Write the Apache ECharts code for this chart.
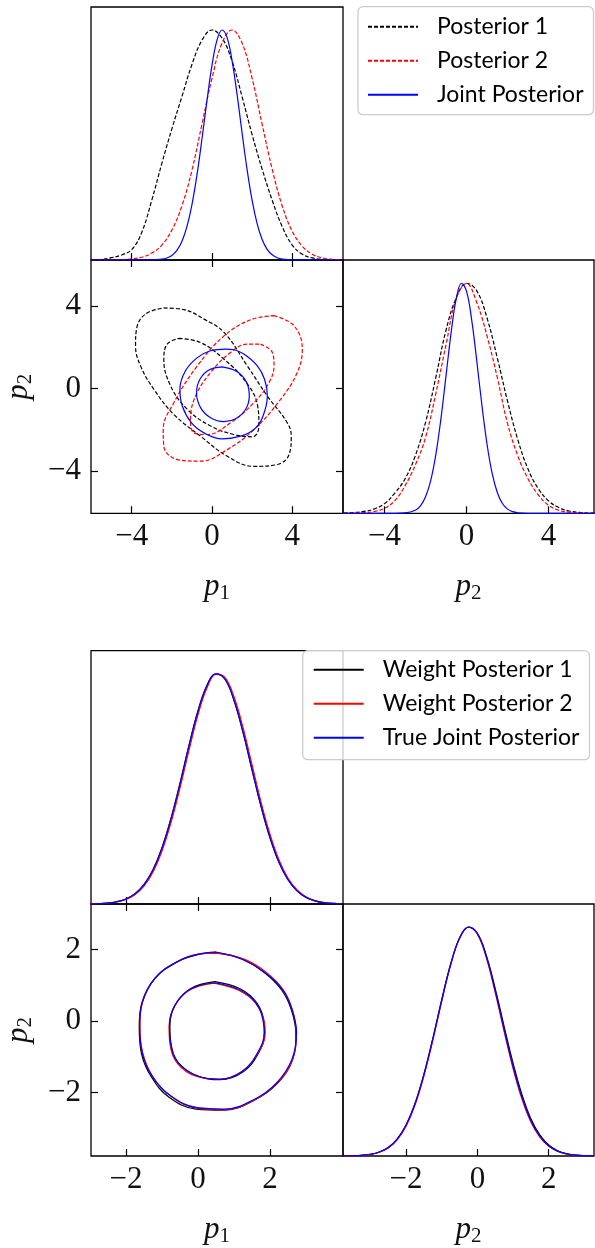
<!DOCTYPE html>
<html>
<head>
<meta charset="utf-8">
<script src="https://cdn.jsdelivr.net/npm/echarts@6/dist/echarts.min.js"></script>
<style>
html,body{margin:0;padding:0;background:#fff;}
#chart{width:595px;height:1248px;}
</style>
</head>
<body>
<div id="chart"></div>
<script>
// ---------------- DATA ----------------
// Figure 1 : marginal grids
const fig1Grid = [-6,-5.5,-5,-4.5,-4,-3.5,-3,-2.5,-2,-1.5,-1,-0.5,0,0.5,1,1.5,2,2.5,3,3.5,4,4.5,5,5.5,6,6.5];
const fig1Post1P1 = [0.001,0.003,0.010,0.022,0.045,0.12,0.26,0.42,0.57,0.71,0.85,0.955,1.0,0.965,0.865,0.71,0.545,0.395,0.26,0.145,0.065,0.025,0.009,0.003,0.001,0];
const fig1Post2P1 = [0,0,0.001,0.002,0.005,0.012,0.03,0.065,0.13,0.235,0.39,0.59,0.79,0.943,1.0,0.943,0.79,0.59,0.395,0.235,0.125,0.06,0.025,0.009,0.003,0.001];
const fig1JointP1Grid = [-6,-3,-2.5,-2.25,-2,-1.75,-1.5,-1.25,-1,-0.75,-0.5,-0.25,0,0.25,0.5,0.75,1,1.25,1.5,1.75,2,2.25,2.5,2.75,3,3.25,3.5,4,6.5];
const fig1JointP1 = [0,0.0005,0.0036,0.0088,0.0198,0.0415,0.0805,0.145,0.240,0.369,0.526,0.693,0.846,0.956,1.0,0.968,0.867,0.720,0.553,0.393,0.259,0.158,0.089,0.046,0.0225,0.010,0.0042,0.0006,0];
const fig1Post1P2 = [0.001,0.003,0.008,0.019,0.042,0.088,0.15,0.25,0.395,0.59,0.796,0.936,0.999,0.966,0.848,0.675,0.487,0.32,0.192,0.107,0.054,0.025,0.01,0.004,0.001,0];
const fig1Post2P2 = [0,0.001,0.003,0.008,0.022,0.055,0.12,0.21,0.33,0.52,0.733,0.935,0.998,0.915,0.77,0.59,0.39,0.25,0.15,0.08,0.035,0.013,0.005,0.002,0,0];
const fig1JointP2Grid = [-6,-3.5,-3,-2.5,-2.25,-2,-1.75,-1.5,-1.25,-1,-0.75,-0.5,-0.25,0,0.25,0.5,0.75,1,1.25,1.5,1.75,2,2.25,2.5,3,6.5];
const fig1JointP2 = [0,0.0001,0.0017,0.0135,0.0327,0.0719,0.142,0.255,0.411,0.599,0.787,0.933,0.999,0.964,0.840,0.661,0.469,0.300,0.173,0.0904,0.0425,0.0181,0.007,0.0024,0.0002,0];

// Figure 1 : contours [p1, p2]
const fig1Post1Outer = [[-2.40,3.90],[-1.40,3.82],[-0.40,3.36],[0.60,2.72],[1.76,1.10],[2.76,-0.36],[3.75,-1.65],[3.95,-2.30],[3.84,-3.19],[3.26,-3.67],[2.09,-3.76],[0.76,-3.27],[-0.57,-2.30],[-1.90,-1.25],[-2.90,-0.03],[-3.56,1.10],[-3.81,2.07],[-3.76,2.88],[-3.31,3.61]];
const fig1Post1Inner = [[-1.65,2.43],[-0.57,2.23],[0.60,1.42],[1.59,0.45],[2.26,-0.76],[2.34,-1.81],[2.01,-2.33],[1.09,-2.22],[-0.07,-1.81],[-1.23,-1.00],[-2.06,0.13],[-2.40,1.42],[-2.23,2.15]];
const fig1Post2Outer = [[3.09,3.53],[4.09,3.04],[4.50,1.91],[4.25,0.78],[3.42,-0.52],[2.09,-1.98],[0.76,-2.95],[-0.57,-3.51],[-1.73,-3.43],[-2.40,-2.79],[-2.43,-1.98],[-1.90,-0.68],[-0.73,1.10],[0.60,2.55],[1.93,3.33]];
const fig1Post2Inner = [[2.42,2.15],[3.01,1.75],[3.09,1.10],[2.84,0.29],[2.09,-0.68],[0.93,-1.65],[-0.24,-2.22],[-0.90,-2.14],[-1.07,-1.49],[-0.82,-0.36],[-0.07,0.78],[0.93,1.75],[1.76,2.15]];
const fig1JointOuter = [[0.68,1.91],[1.09,1.88],[1.59,1.67],[2.26,1.10],[2.62,0.45],[2.76,-0.36],[2.51,-1.41],[2.09,-1.98],[1.43,-2.30],[0.51,-2.43],[-0.40,-2.14],[-1.03,-1.65],[-1.48,-0.84],[-1.60,-0.03],[-1.32,0.86],[-0.73,1.50],[-0.07,1.83]];
const fig1JointInner = [[0.51,1.05],[1.26,0.81],[1.73,0.29],[1.86,-0.36],[1.68,-1.00],[1.18,-1.46],[0.60,-1.60],[-0.07,-1.41],[-0.57,-0.92],[-0.77,-0.20],[-0.60,0.45],[-0.15,0.90]];

// Figure 2 : marginal grids
const fig2GridP1 = [-3,-2.75,-2.5,-2.25,-2,-1.75,-1.5,-1.25,-1,-0.75,-0.5,-0.25,0,0.25,0.5,0.75,1,1.25,1.5,1.75,2,2.25,2.5,2.75,3,3.25,3.5,3.75,4];
const fig2W1P1 = [0.0006,0.0017,0.0043,0.0100,0.0220,0.0445,0.0840,0.148,0.243,0.370,0.523,0.688,0.838,0.949,0.999,0.976,0.885,0.746,0.584,0.425,0.288,0.181,0.107,0.058,0.029,0.0137,0.006,0.0025,0.0009];
const fig2W2P1 = [0.0005,0.0014,0.0037,0.0087,0.0196,0.0403,0.0774,0.138,0.229,0.352,0.502,0.666,0.820,0.938,0.997,0.984,0.901,0.768,0.607,0.445,0.304,0.192,0.113,0.0618,0.0313,0.0148,0.0065,0.0027,0.001];
const fig2TrueP1 = [0.0006,0.0016,0.0041,0.0097,0.0215,0.0439,0.0835,0.1475,0.242,0.369,0.521,0.685,0.836,0.948,0.999,0.977,0.887,0.749,0.587,0.427,0.289,0.181,0.106,0.0573,0.0288,0.0135,0.0059,0.0024,0.0009];
const fig2GridP2 = [-3.75,-3.5,-3.25,-3,-2.75,-2.5,-2.25,-2,-1.75,-1.5,-1.25,-1,-0.75,-0.5,-0.25,0,0.25,0.5,0.75,1,1.25,1.5,1.75,2,2.25,2.5,2.75,3,3.25];
const fig2W1P2 = [0.0004,0.0011,0.0030,0.0076,0.0176,0.0375,0.0742,0.135,0.229,0.357,0.513,0.683,0.838,0.952,0.999,0.972,0.876,0.731,0.565,0.405,0.268,0.163,0.092,0.048,0.023,0.0102,0.0042,0.0016,0.0006];
const fig2W2P2 = [0.0003,0.0009,0.0026,0.0068,0.0162,0.0352,0.0706,0.130,0.222,0.349,0.505,0.675,0.833,0.950,0.999,0.968,0.865,0.713,0.543,0.382,0.248,0.148,0.082,0.042,0.0198,0.0087,0.0035,0.0013,0.0004];
const fig2TrueP2 = [0.0004,0.0011,0.0030,0.0076,0.0176,0.0375,0.0741,0.135,0.228,0.356,0.512,0.681,0.837,0.952,0.999,0.970,0.870,0.721,0.552,0.391,0.256,0.154,0.0863,0.0446,0.0212,0.0094,0.0038,0.0014,0.0005];

// Figure 2 : contours [p1, p2]
const fig2W1Outer = [[0.50,1.91],[1.22,1.74],[1.86,1.34],[2.33,0.86],[2.60,0.30],[2.72,-0.36],[2.62,-1.10],[2.21,-1.74],[1.55,-2.22],[0.70,-2.49],[-0.05,-2.46],[-0.80,-2.13],[-1.30,-1.55],[-1.57,-0.90],[-1.63,-0.16],[-1.56,0.50],[-1.19,1.20],[-0.56,1.66],[-0.03,1.85]];
const fig2W2Outer = [[0.52,1.90],[1.28,1.73],[1.90,1.36],[2.38,0.86],[2.63,0.30],[2.73,-0.34],[2.64,-1.05],[2.23,-1.70],[1.58,-2.20],[0.73,-2.48],[0.00,-2.44],[-0.74,-2.11],[-1.27,-1.52],[-1.54,-0.86],[-1.61,-0.12],[-1.54,0.52],[-1.17,1.22],[-0.54,1.68],[0.00,1.87]];
const fig2TrueOuter = [[0.505,1.93],[1.24,1.72],[1.87,1.35],[2.35,0.88],[2.61,0.33],[2.74,-0.32],[2.61,-1.07],[2.19,-1.72],[1.56,-2.19],[0.72,-2.46],[-0.02,-2.42],[-0.76,-2.09],[-1.28,-1.53],[-1.55,-0.88],[-1.62,-0.14],[-1.55,0.51],[-1.18,1.21],[-0.55,1.67],[-0.02,1.86]];
const fig2W1Inner = [[0.47,1.10],[1.17,0.90],[1.64,0.50],[1.84,-0.06],[1.85,-0.34],[1.68,-0.90],[1.26,-1.42],[0.62,-1.64],[-0.01,-1.54],[-0.54,-1.17],[-0.75,-0.62],[-0.78,-0.15],[-0.64,0.43],[-0.21,0.90]];
const fig2W2Inner = [[0.44,1.06],[1.13,0.86],[1.60,0.50],[1.85,-0.06],[1.87,-0.33],[1.67,-0.89],[1.22,-1.41],[0.60,-1.62],[-0.03,-1.55],[-0.57,-1.18],[-0.78,-0.61],[-0.80,-0.15],[-0.66,0.40],[-0.24,0.86]];
const fig2TrueInner = [[0.45,1.07],[1.14,0.88],[1.61,0.51],[1.82,-0.05],[1.84,-0.32],[1.66,-0.88],[1.24,-1.40],[0.61,-1.63],[-0.02,-1.53],[-0.55,-1.16],[-0.76,-0.60],[-0.79,-0.14],[-0.65,0.42],[-0.23,0.88]];

// Axis ranges and ticks
const fig1P1Range = [-6.03, 6.53];
const fig1P2Range = [-6.03, 6.22];
const fig2P1Range = [-2.97, 4.03];
const fig2P2Range = [-3.77, 3.27];
const fig1Ticks = [-4, 0, 4];
const fig2Ticks = [-2, 0, 2];
const fig1Names = ['Posterior 1', 'Posterior 2', 'Joint Posterior'];
const fig2Names = ['Weight Posterior 1', 'Weight Posterior 2', 'True Joint Posterior'];

// ---------------- CHART ----------------
const SERIF = 'Liberation Serif';
const SANS = 'Lato';
const zip = (xs, ys) => xs.map((x, i) => [x, ys[i]]);
const close = a => a.concat([a[0]]);
const fmt = v => (v < 0 ? '\u2212' + Math.abs(v) : String(v));

const nameRich = {
  i: {fontFamily: SERIF, fontStyle: 'italic', fontSize: 31, color: '#111'},
  s: {fontFamily: SERIF, fontSize: 21, color: '#111', padding: [14, 0, 0, 0]}
};

function gridCfg(l, t, w, h) {
  return {left: l, top: t, width: w, height: h, show: true, borderColor: '#000', borderWidth: 1.3, backgroundColor: 'transparent'};
}
function xAx(gi, range, ticks, opts) {
  opts = opts || {};
  return {
    type: 'value', gridIndex: gi, min: range[0], max: range[1], position: opts.position || 'bottom',
    axisLine: {show: false, onZero: false},
    splitLine: {show: false},
    axisTick: {show: true, inside: true, length: 7, lineStyle: {color: '#000', width: 1.2}, customValues: ticks},
    axisLabel: {show: !!opts.labels, customValues: ticks, formatter: fmt, fontFamily: SERIF, fontSize: 31, color: '#111', margin: 8},
    name: opts.name || '', nameLocation: 'middle', nameGap: 56,
    nameTextStyle: {rich: nameRich}
  };
}
function yAx(gi, range, ticks, opts) {
  opts = opts || {};
  return {
    type: 'value', gridIndex: gi, min: range[0], max: range[1], position: opts.position || 'left',
    show: opts.hidden ? false : true,
    axisLine: {show: false, onZero: false},
    splitLine: {show: false},
    axisTick: {show: true, inside: true, length: 7, lineStyle: {color: '#000', width: 1.2}, customValues: ticks},
    axisLabel: {show: !!opts.labels, customValues: ticks, formatter: fmt, fontFamily: SERIF, fontSize: 31, color: '#111', margin: 10},
    name: opts.name || '', nameLocation: 'middle', nameGap: 55, nameRotate: 90,
    nameTextStyle: {rich: nameRich}
  };
}
function ser(name, data, xi, yi, color, dashed, z) {
  return {
    type: 'line', name: name, data: data, xAxisIndex: xi, yAxisIndex: yi,
    symbol: 'none', smooth: 0.4, clip: true, z: z, silent: true,
    lineStyle: {color: color, width: 1.2, type: dashed ? [4, 2] : 'solid'},
    itemStyle: {color: color}
  };
}
function legendCfg(names, left, top, padding) {
  return {
    data: names, orient: 'vertical', left: left, top: top, selectedMode: false,
    padding: padding, itemWidth: 50, itemHeight: 12, itemGap: 10,
    backgroundColor: 'rgba(255,255,255,0.8)', borderColor: '#cccccc', borderWidth: 1.3, borderRadius: 5,
    itemStyle: {color: 'rgba(0,0,0,0)', borderColor: 'rgba(0,0,0,0)', borderWidth: 0, opacity: 0},
    textStyle: {fontFamily: SANS, fontSize: 23, lineHeight: 24, color: '#000', padding: [0, 0, 0, 14]}
  };
}

const BLK = '#000000', RED = '#ff0000', BLU = '#0000ff';

const option = {
  animation: false,
  backgroundColor: '#ffffff',
  grid: [
    gridCfg(91, 7, 252, 253),
    gridCfg(91, 260, 252, 253.3),
    gridCfg(343, 260, 251, 253.3),
    gridCfg(91, 650.7, 252, 253.3),
    gridCfg(91, 904, 252, 253.3),
    gridCfg(343, 904, 251, 253.3)
  ],
  xAxis: [
    xAx(0, fig1P1Range, fig1Ticks, {}),
    xAx(1, fig1P1Range, fig1Ticks, {labels: true, name: '{i|p}{s|1}'}),
    xAx(1, fig1P1Range, fig1Ticks, {position: 'top'}),
    xAx(2, fig1P2Range, fig1Ticks, {labels: true, name: '{i|p}{s|2}'}),
    xAx(3, fig2P1Range, fig2Ticks, {}),
    xAx(4, fig2P1Range, fig2Ticks, {labels: true, name: '{i|p}{s|1}'}),
    xAx(4, fig2P1Range, fig2Ticks, {position: 'top'}),
    xAx(5, fig2P2Range, fig2Ticks, {labels: true, name: '{i|p}{s|2}'})
  ],
  yAxis: [
    yAx(0, [0, 1.1], [], {hidden: true}),
    yAx(1, fig1P2Range, fig1Ticks, {labels: true, name: '{i|p}{s|2}'}),
    yAx(1, fig1P2Range, fig1Ticks, {position: 'right'}),
    yAx(2, [0, 1.1], [], {hidden: true}),
    yAx(3, [0, 1.1], [], {hidden: true}),
    yAx(4, fig2P2Range, fig2Ticks, {labels: true, name: '{i|p}{s|2}'}),
    yAx(4, fig2P2Range, fig2Ticks, {position: 'right'}),
    yAx(5, [0, 1.1], [], {hidden: true})
  ],
  legend: [
    legendCfg(fig1Names, 358, 6.7, [8, 10, 8, 9]),
    legendCfg(fig2Names, 302.7, 650.7, [7, 10, 10, 10])
  ],
  series: [
    // Figure 1 marginal p1
    ser(fig1Names[0], zip(fig1Grid, fig1Post1P1), 0, 0, BLK, true, 2),
    ser(fig1Names[1], zip(fig1Grid, fig1Post2P1), 0, 0, RED, true, 3),
    ser(fig1Names[2], zip(fig1JointP1Grid, fig1JointP1), 0, 0, BLU, false, 4),
    // Figure 1 contours
    ser(fig1Names[0], close(fig1Post1Outer), 1, 1, BLK, true, 2),
    ser(fig1Names[0], close(fig1Post1Inner), 1, 1, BLK, true, 2),
    ser(fig1Names[1], close(fig1Post2Outer), 1, 1, RED, true, 3),
    ser(fig1Names[1], close(fig1Post2Inner), 1, 1, RED, true, 3),
    ser(fig1Names[2], close(fig1JointOuter), 1, 1, BLU, false, 4),
    ser(fig1Names[2], close(fig1JointInner), 1, 1, BLU, false, 4),
    // Figure 1 marginal p2
    ser(fig1Names[0], zip(fig1Grid, fig1Post1P2), 3, 3, BLK, true, 2),
    ser(fig1Names[1], zip(fig1Grid, fig1Post2P2), 3, 3, RED, true, 3),
    ser(fig1Names[2], zip(fig1JointP2Grid, fig1JointP2), 3, 3, BLU, false, 4),
    // Figure 2 marginal p1
    ser(fig2Names[0], zip(fig2GridP1, fig2W1P1), 4, 4, BLK, false, 2),
    ser(fig2Names[1], zip(fig2GridP1, fig2W2P1), 4, 4, RED, false, 3),
    ser(fig2Names[2], zip(fig2GridP1, fig2TrueP1), 4, 4, BLU, false, 4),
    // Figure 2 contours
    ser(fig2Names[0], close(fig2W1Outer), 5, 5, BLK, false, 2),
    ser(fig2Names[0], close(fig2W1Inner), 5, 5, BLK, false, 2),
    ser(fig2Names[1], close(fig2W2Outer), 5, 5, RED, false, 3),
    ser(fig2Names[1], close(fig2W2Inner), 5, 5, RED, false, 3),
    ser(fig2Names[2], close(fig2TrueOuter), 5, 5, BLU, false, 4),
    ser(fig2Names[2], close(fig2TrueInner), 5, 5, BLU, false, 4),
    // Figure 2 marginal p2
    ser(fig2Names[0], zip(fig2GridP2, fig2W1P2), 7, 7, BLK, false, 2),
    ser(fig2Names[1], zip(fig2GridP2, fig2W2P2), 7, 7, RED, false, 3),
    ser(fig2Names[2], zip(fig2GridP2, fig2TrueP2), 7, 7, BLU, false, 4)
  ]
};

const chart = echarts.init(document.getElementById('chart'), null, {renderer: 'canvas', width: 595, height: 1248});
chart.setOption(option);
</script>
</body>
</html>
